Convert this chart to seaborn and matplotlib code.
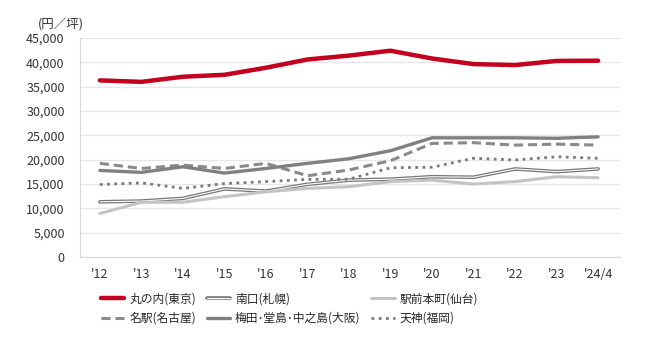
import pandas as pd
import matplotlib.pyplot as plt
import matplotlib.patheffects as pe
import seaborn as sns

years = ["'12", "'13", "'14", "'15", "'16", "'17", "'18", "'19", "'20", "'21", "'22", "'23", "'24/4"]

marunouchi = [36300, 36000, 37050, 37450, 38900, 40600, 41400, 42400, 40800, 39650, 39450, 40300, 40350]
sapporo = [11350, 11500, 12050, 14000, 13550, 14950, 15800, 16000, 16500, 16400, 18100, 17550, 18100]
sendai = [8950, 11250, 11250, 12400, 13400, 14100, 14450, 15500, 15800, 15000, 15500, 16500, 16300]
nagoya = [19250, 18200, 18900, 18200, 19250, 16700, 17900, 19800, 23350, 23500, 23000, 23200, 23000]
osaka = [17800, 17400, 18550, 17250, 18200, 19250, 20200, 21850, 24500, 24500, 24500, 24400, 24700]
fukuoka = [14900, 15250, 14100, 15100, 15500, 15950, 16000, 18350, 18450, 20300, 19950, 20600, 20300]

labels = ['丸の内(東京)', '名駅(名古屋)', '南口(札幌)', '梅田･堂島･中之島(大阪)', '駅前本町(仙台)', '天神(福岡)']
values = [marunouchi, nagoya, sapporo, osaka, sendai, fukuoka]

sns.set_style('white')
plt.rcParams['font.family'] = ['Noto Sans CJK JP', 'DejaVu Sans']

fig = plt.figure(figsize=(6.5, 3.59), dpi=100)
ax = fig.add_axes([0.123, 0.284, 0.831, 0.61])

x = list(range(len(years)))
styles = {
    '丸の内(東京)': dict(color='#c4001f', linewidth=3.2),
    '名駅(名古屋)': dict(color='#8a8a8a', linewidth=2.2, linestyle=(0, (3, 1.6))),
    '南口(札幌)': dict(color='white', linewidth=0.8,
                      path_effects=[pe.Stroke(linewidth=2.6, foreground='#777777'), pe.Normal()]),
    '梅田･堂島･中之島(大阪)': dict(color='#808080', linewidth=2.4),
    '駅前本町(仙台)': dict(color='#c4c4c4', linewidth=2.2),
    '天神(福岡)': dict(color='#7a7a7a', linewidth=2.0, linestyle=(0, (1, 1.6))),
}

for name, vals in zip(labels, values):
    df = pd.DataFrame({'x': x, 'y': vals})
    sns.lineplot(data=df, x='x', y='y', ax=ax, label=name, **styles[name])

ax.set_xlim(-0.48, 12.53)
ax.set_ylim(0, 45000)
ax.set_yticks(range(0, 45001, 5000))
ax.set_yticklabels([f'{v:,}' for v in range(0, 45001, 5000)], fontsize=9, color='#333333')
ax.set_xticks(x)
ax.set_xticklabels(years, fontsize=9, color='#333333')
ax.set_xlabel('')
ax.set_ylabel('')
ax.tick_params(axis='y', length=0, pad=11)
ax.tick_params(axis='x', length=0, pad=8)
ax.grid(axis='y', color='#e6e6e6', linewidth=1)
ax.set_axisbelow(True)
for s in ['top', 'right']:
    ax.spines[s].set_visible(False)
for s in ['left', 'bottom']:
    ax.spines[s].set_color('#d9d9d9')

fig.text(0.058, 0.93, '(円／坪)', fontsize=9, color='#333333', va='center', ha='left')

ax.legend(loc='upper left', bbox_to_anchor=(0.03, -0.14), ncol=3, frameon=False,
          fontsize=8.5, handlelength=2.0, handletextpad=0.4, columnspacing=0.9,
          labelspacing=0.55, borderaxespad=0)

fig.savefig('out.png', dpi=100)
